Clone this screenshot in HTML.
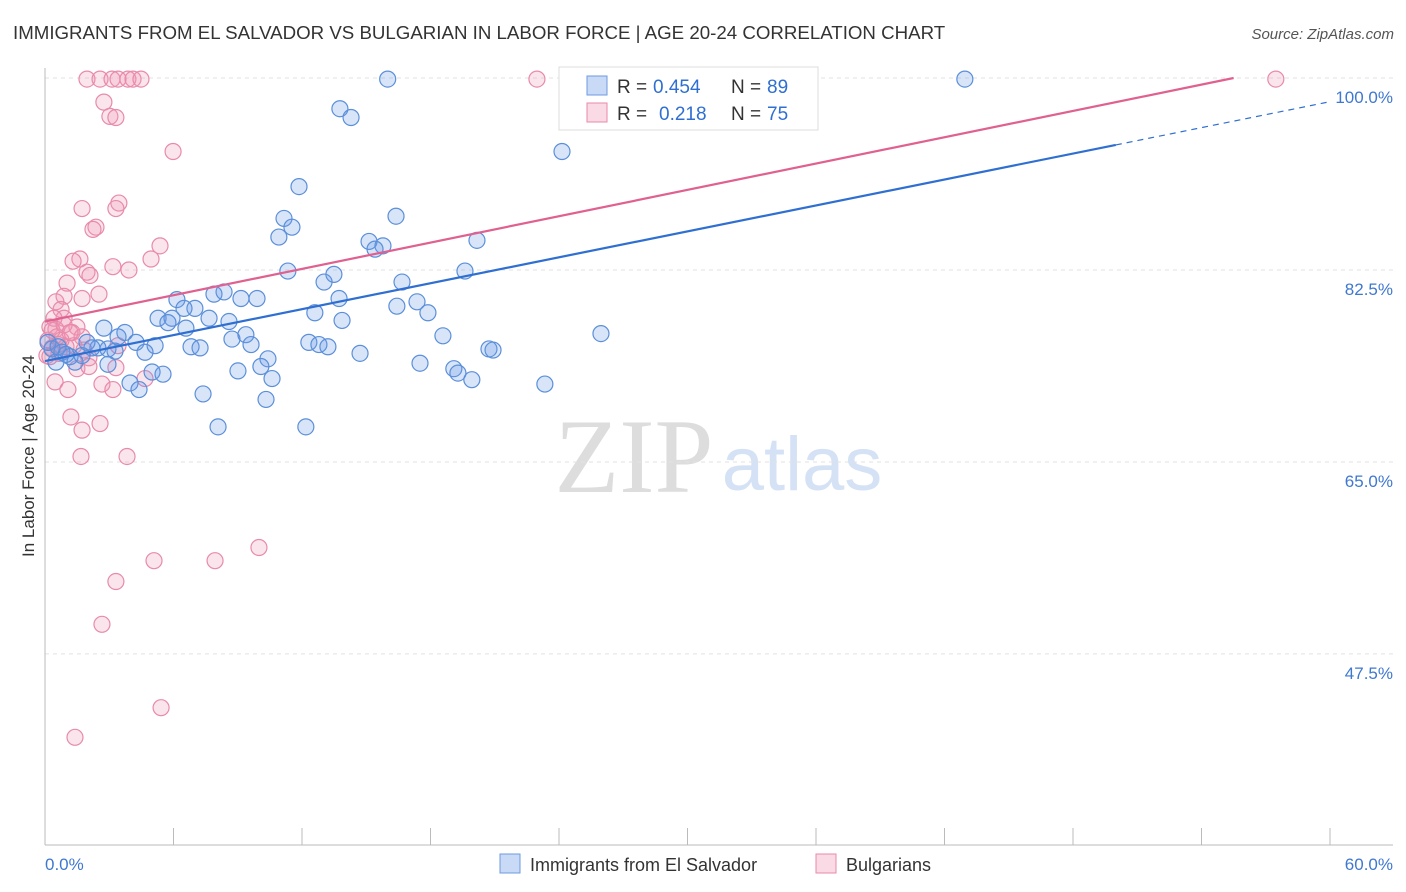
<!DOCTYPE html>
<html><head><meta charset="utf-8"><style>
body{margin:0;background:#fff;font-family:"Liberation Sans",sans-serif;}
svg{display:block}
</style></head><body>
<svg id="chart" width="1406" height="892" xmlns="http://www.w3.org/2000/svg">
<text x="13" y="39" font-size="18.7" fill="#333">IMMIGRANTS FROM EL SALVADOR VS BULGARIAN IN LABOR FORCE | AGE 20-24 CORRELATION CHART</text>
<text x="1394" y="39" font-size="15" fill="#555" font-style="italic" text-anchor="end">Source: ZipAtlas.com</text>
<text x="634" y="492" font-size="106" fill="#ddd" font-family="Liberation Serif,serif" text-anchor="middle">ZIP</text>
<text x="802" y="490" font-size="76" fill="#d5e2f5" text-anchor="middle">atlas</text>
<g id="grid"></g>
<g id="axes"></g>
<g id="marks"></g>
<text transform="translate(34,456) rotate(-90)" font-size="17" fill="#333" text-anchor="middle">In Labor Force | Age 20-24</text>
<g>
<rect x="559" y="67" width="259" height="63" fill="#fff" stroke="#ddd"/>
<rect x="587" y="76" width="20" height="19" fill="rgba(100,150,230,0.35)" stroke="#6d9be0"/>
<text x="617" y="93" font-size="19" fill="#333">R =</text>
<text x="653" y="93" font-size="19" fill="#2f6fd1">0.454</text>
<text x="731" y="93" font-size="19" fill="#333">N =</text>
<text x="767" y="93" font-size="19" fill="#2f6fd1">89</text>
<rect x="587" y="103" width="20" height="19" fill="rgba(240,150,180,0.35)" stroke="#e88aab"/>
<text x="617" y="120" font-size="19" fill="#333">R =</text>
<text x="659" y="120" font-size="19" fill="#2f6fd1">0.218</text>
<text x="731" y="120" font-size="19" fill="#333">N =</text>
<text x="767" y="120" font-size="19" fill="#2f6fd1">75</text>
</g>
<g>
<rect x="500" y="854" width="20" height="19" fill="rgba(100,150,230,0.35)" stroke="#6d9be0"/>
<text x="530" y="871" font-size="18" fill="#333">Immigrants from El Salvador</text>
<rect x="816" y="854" width="20" height="19" fill="rgba(240,150,180,0.35)" stroke="#e88aab"/>
<text x="846" y="871" font-size="18" fill="#333">Bulgarians</text>
</g>
</svg>
<script>
const blueX=[16.0,42.95,13.77,14.29,24.14,11.86,16.39,11.16,11.53,10.92,15.13,15.78,15.41,20.17,11.34,13.49,13.03,19.61,16.67,6.16,7.89,8.36,9.9,9.15,13.73,16.43,17.37,17.88,12.6,13.87,5.28,5.93,5.74,7.0,6.49,7.66,8.59,6.58,2.75,3.73,3.41,8.73,9.38,9.62,6.82,7.24,5.14,4.25,4.67,2.94,2.47,3.27,12.32,12.79,13.21,14.71,18.58,25.96,20.73,20.92,10.41,10.08,9.01,10.6,17.51,19.09,19.28,19.93,23.34,5.0,5.51,3.97,4.39,7.38,10.32,8.08,12.18,2.94,2.19,1.96,0.79,1.17,1.4,0.51,0.33,0.14,0.61,0.98,1.73];
const blueY=[99.9,99.9,97.2,96.4,93.3,90.1,87.4,87.2,86.4,85.5,85.1,84.7,84.4,85.2,82.4,82.1,81.4,82.4,81.4,79.8,80.3,80.5,79.9,79.9,79.9,79.2,79.6,78.6,78.6,77.9,78.1,78.1,77.7,79.0,79.0,78.1,77.8,77.2,77.2,76.8,76.4,76.2,76.6,75.7,75.5,75.4,75.6,75.9,75.0,75.3,75.4,75.1,75.9,75.7,75.5,74.9,76.5,76.7,75.3,75.2,74.4,73.7,73.3,72.6,74.0,73.5,73.1,72.5,72.1,73.2,73.0,72.2,71.6,71.2,70.7,68.2,68.2,73.9,75.4,75.9,75.0,74.6,74.1,74.1,75.3,75.9,75.5,74.8,74.7];
const pinkX=[1.96,2.57,3.13,3.41,3.87,4.11,4.48,22.97,57.47,2.75,3.03,3.31,5.98,3.45,3.31,1.73,2.38,2.24,5.37,4.95,1.63,1.31,3.17,3.92,1.96,2.1,1.03,2.52,0.89,1.73,0.51,0.75,0.89,0.42,0.23,0.51,1.49,1.26,1.73,0.56,0.14,0.33,0.65,0.09,0.98,1.35,3.41,2.05,1.49,2.05,3.31,4.67,0.47,1.07,2.66,3.17,1.21,1.73,2.57,1.68,3.83,5.09,7.94,9.99,3.31,2.66,5.42,1.4,0.75,0.33,0.89,1.17,1.82,0.23,0.61];
const pinkY=[99.9,99.9,99.9,99.9,99.9,99.9,99.9,99.9,99.9,97.8,96.5,96.4,93.3,88.6,88.1,88.1,86.4,86.2,84.7,83.5,83.5,83.3,82.8,82.5,82.3,82.0,81.3,80.3,80.1,79.9,79.6,78.9,78.1,78.1,77.3,77.1,77.3,76.8,76.4,76.4,76.1,75.4,74.9,74.7,75.5,75.6,75.6,74.5,73.5,73.7,73.6,72.6,72.3,71.6,72.1,71.6,69.1,67.9,68.5,65.5,65.5,56.0,56.0,57.2,54.1,50.2,42.6,39.9,76.1,77.0,77.5,76.8,75.2,74.6,75.7];
const blueLine=[74.2,0.394];
const pinkLine=[77.8,0.4];
const yTicks=[100,82.5,65,47.5];
const yTickLabels=["100.0%","82.5%","65.0%","47.5%"];
const xTickVals=[0,6,12,18,24,30,36,42,48,54,60];

const NS="http://www.w3.org/2000/svg";
const X0=45,X1=1330,YTOP=78;
function sx(v){return X0+(X1-X0)*v/60;}
function sy(v){return YTOP+(100-v)*10.97;}
function mk(tag,attrs,parent){const e=document.createElementNS(NS,tag);for(const k in attrs)e.setAttribute(k,attrs[k]);parent.appendChild(e);return e;}
const grid=document.getElementById('grid'),axes=document.getElementById('axes'),marks=document.getElementById('marks');
yTicks.forEach((t,i)=>{
  const l=mk('line',{x1:45,x2:1393,y1:sy(t),y2:sy(t),stroke:'#e2e2e2','stroke-dasharray':'4,4'},grid);
  
  
  const tx=mk('text',{x:1393,y:sy(t)+25,'font-size':17,fill:'#3f78d0','text-anchor':'end'},axes);
  tx.textContent=yTickLabels[i];
  
  
});
const ya=mk('line',{x1:45,x2:45,y1:68,y2:845,stroke:'#bbb'},axes);


const xa=mk('line',{x1:45,x2:1393,y1:845,y2:845,stroke:'#bbb'},axes);


xTickVals.forEach(v=>{
  const t=mk('line',{x1:sx(v),x2:sx(v),y1:828,y2:845,stroke:'#bbb'},axes);
  
  
});
const xl0=mk('text',{x:45,y:870,'font-size':17,fill:'#3f78d0'},axes);xl0.textContent='0.0%';


const xl1=mk('text',{x:1393,y:870,'font-size':17,fill:'#3f78d0','text-anchor':'end'},axes);xl1.textContent='60.0%';



function dots(xs,ys,fill,stroke,name){
  xs.forEach((x,i)=>{
    const c=mk('circle',{cx:sx(x),cy:sy(ys[i]),r:8,fill:fill,stroke:stroke,'stroke-width':1.2},marks);
    
    
  });
}
dots(pinkX,pinkY,'rgba(240,150,180,0.25)','#e88aab','bulgarian-point');
dots(blueX,blueY,'rgba(100,150,230,0.25)','#5b8fd9','el-salvador-point');
const bEnd=50;
const bl=mk('line',{x1:sx(0),y1:sy(blueLine[0]),x2:sx(bEnd),y2:sy(blueLine[0]+blueLine[1]*bEnd),stroke:'#2f6fd1','stroke-width':2.2},marks);


const bd=mk('line',{x1:sx(bEnd),y1:sy(blueLine[0]+blueLine[1]*bEnd),x2:sx(60),y2:sy(blueLine[0]+blueLine[1]*60),stroke:'#2f6fd1','stroke-width':1.2,'stroke-dasharray':'6,5'},marks);


const pEnd=(100-pinkLine[0])/pinkLine[1];
const pl=mk('line',{x1:sx(0),y1:sy(pinkLine[0]),x2:sx(pEnd),y2:sy(100),stroke:'#e0608f','stroke-width':2.2},marks);


</script>
</body></html>
